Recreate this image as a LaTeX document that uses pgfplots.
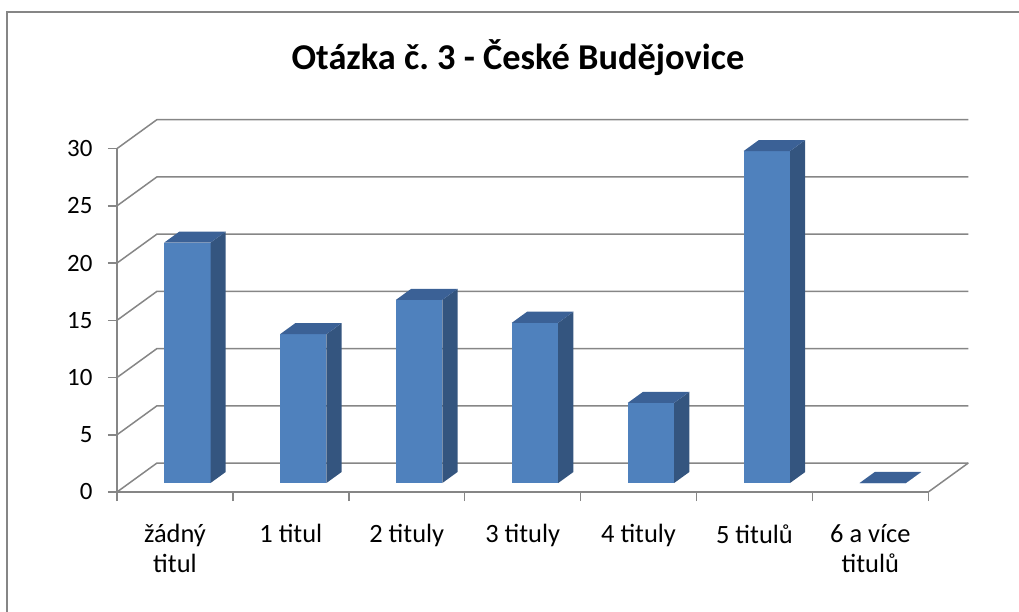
\documentclass[border=0pt]{standalone}
\usepackage{pgfplots}
\pgfplotsset{compat=1.18}
\usepackage{pgfplotstable}
\usepackage{fontspec}
\setmainfont{Carlito}
\definecolor{barfront}{HTML}{4F81BD}
\definecolor{barside}{HTML}{34557F}
\definecolor{bartop}{HTML}{3B6196}
\definecolor{gridgray}{HTML}{868686}

\pgfplotstableread{
idx val
0 21
1 13
2 16
3 14
4 7
5 29
6 0
}\datatable

\def\ax{0.3451}\def\az{2.533}\def\fa{0.31}\def\fb{0.69}\def\hw{0.2}

\begin{document}
\frenchspacing
\begin{tikzpicture}
\path[use as bounding box] (0bp,0bp) rectangle (1019bp,612bp);
\clip (0bp,0bp) rectangle (1019bp,612bp);
\draw[gridgray, line width=2bp] (7bp,-5bp) -- (7bp,600bp) -- (1030bp,600bp);
\node[font=\bfseries\fontsize{36.5}{40}\selectfont, anchor=base] at (518bp,542bp) {Otázka č. 3 - České Budějovice};
\begin{axis}[
  at={(117bp,120bp)}, anchor=origin,
  x=115.9bp, y=11.447bp,
  xmin=0, xmax=7, ymin=0, ymax=30,
  clip=false,
  axis x line*=bottom, axis y line*=left,
  axis line style={draw=gridgray, line width=1.5bp},
  xtick={0,...,7}, x tick label as interval,
  xticklabels={{žádný\\titul},{1 titul},{2 tituly},{3 tituly},{4 tituly},{5 titulů},{6 a více\\titulů}},
  ytick={0,5,...,30},
  tick align=outside, major tick length=9bp,
  tick style={draw=gridgray, line width=1.5bp},
  ticklabel style={font=\fontsize{25}{30}\selectfont},
  xticklabel style={align=center, anchor=north, yshift=-20bp, font=\fontsize{26.5}{30}\selectfont},
  yticklabel style={xshift=-12bp},
  /pgf/number format/assume math mode=true,
]
\pgfplotsforeachungrouped \z in {0,5,...,30}{
  \pgfmathsetmacro{\zz}{\z+\az}
  \pgfmathsetmacro{\xe}{7+\ax}
  \edef\cmd{\noexpand\addplot[gridgray, line width=1.5bp] coordinates {(0,\z) (\ax,\zz) (\xe,\zz)};}
  \cmd
}
\addplot[gridgray, line width=1.5bp] coordinates {(7,0) (7.3451,2.533)};
\pgfplotsforeachungrouped \n in {0,...,6}{
  \pgfplotstablegetelem{\n}{val}\of\datatable
  \let\v\pgfplotsretval
  \pgfmathsetmacro{\xl}{\n+0.5-\hw+\fa*\ax}
  \pgfmathsetmacro{\xr}{\n+0.5+\hw+\fa*\ax}
  \pgfmathsetmacro{\xlb}{\n+0.5-\hw+\fb*\ax}
  \pgfmathsetmacro{\xrb}{\n+0.5+\hw+\fb*\ax}
  \pgfmathsetmacro{\za}{\fa*\az}
  \pgfmathsetmacro{\zat}{\v+\fa*\az}
  \pgfmathsetmacro{\zb}{\fb*\az}
  \pgfmathsetmacro{\zbt}{\v+\fb*\az}
  \edef\cmd{%
    \noexpand\addplot[fill=barfront,draw=none] coordinates {(\xl,\za)(\xr,\za)(\xr,\zat)(\xl,\zat)} -- cycle;
    \noexpand\addplot[fill=barside,draw=none] coordinates {(\xr,\za)(\xrb,\zb)(\xrb,\zbt)(\xr,\zat)} -- cycle;
    \noexpand\addplot[fill=bartop,draw=none] coordinates {(\xl,\zat)(\xr,\zat)(\xrb,\zbt)(\xlb,\zbt)} -- cycle;
  }%
  \cmd
}
\end{axis}
\end{tikzpicture}
\end{document}
